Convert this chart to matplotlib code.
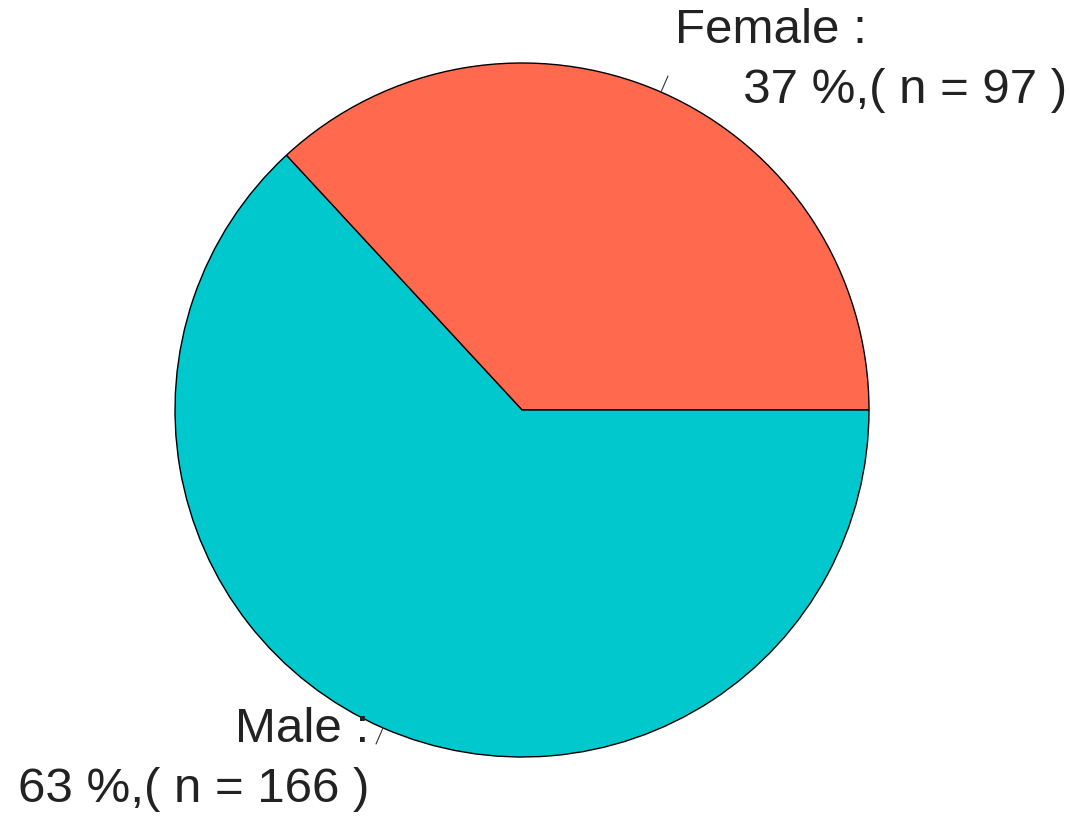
import numpy as np
import matplotlib
matplotlib.use("Agg")
from matplotlib import pyplot as plt

# gender split
groups = ["Female", "Male"]
counts = [97, 166]
pcts = [37, 63]
colors = ["#FF6A4F", "#00C8CC"]

labels = [
    "Female :\n     37 %,( n = 97 )",
    "Male :\n63 %,( n = 166 )",
]

fig = plt.figure(figsize=(10.71, 8.22), dpi=100)
ax = fig.add_axes([0, 0, 1, 1])

wedges, texts = ax.pie(counts, colors=colors, startangle=0, counterclock=True,
                       labels=labels, labeldistance=1.1,
                       wedgeprops=dict(edgecolor="black", linewidth=1.0),
                       textprops=dict(fontsize=35.5, family="Liberation Sans", color="#222222"))
for t in texts:
    t.set_linespacing(1.42)

# small leader ticks (R style) from r=1 to r=1.05
for w in wedges:
    a = np.deg2rad((w.theta1 + w.theta2) / 2.)
    ax.plot([np.cos(a), 1.05*np.cos(a)], [np.sin(a), 1.05*np.sin(a)],
            color="#333333", linewidth=0.8)

ax.set_xlim(-522/347., (1071-522)/347.)
ax.set_ylim(-412/347., 410/347.)
ax.set_aspect("equal")
ax.axis("off")

fig.savefig("out.png", dpi=100, facecolor="white")
